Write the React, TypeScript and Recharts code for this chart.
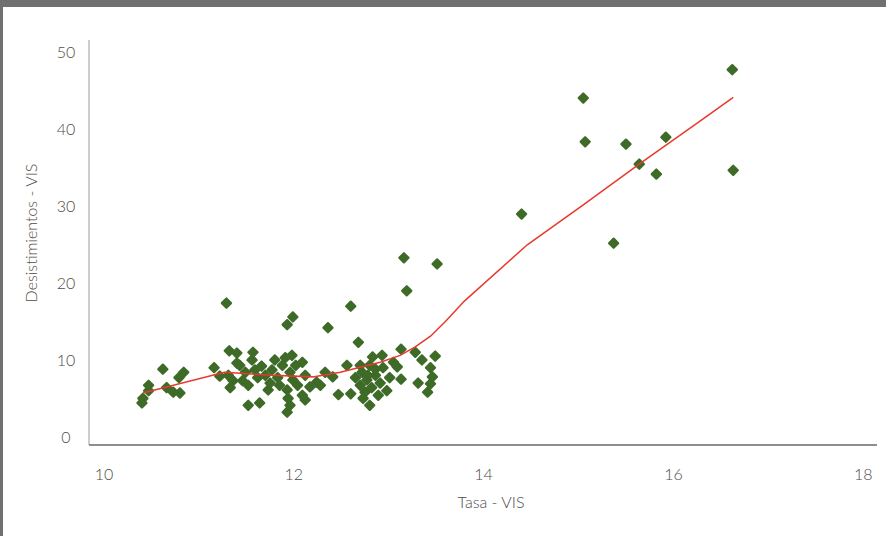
import React from "react";
import { ScatterChart, Scatter, XAxis, YAxis } from "recharts";

// Tasa - VIS (x) vs Desistimientos - VIS (y)
const tasa = [
  10.4, 10.41, 10.47, 10.47, 10.62, 10.66, 10.73, 10.8, 10.79, 10.84, 11.16,
  11.29, 11.32, 11.4, 11.31, 11.36, 11.33, 11.43, 11.49, 11.46, 11.52, 11.52,
  11.57, 11.56, 11.59, 11.62, 11.64, 11.66, 11.7, 11.73, 11.75, 11.77, 11.8,
  11.83, 11.85, 11.88, 11.91, 11.93, 11.94, 11.93, 11.96, 11.98, 11.96, 11.99,
  12.02, 12.04, 12.09, 12.09, 12.12, 12.17, 12.28, 12.33, 11.93, 11.99, 12.36,
  12.12, 12.41, 12.56, 12.6, 12.6, 12.68, 12.65, 12.7, 12.72, 12.75, 12.77,
  12.8, 12.8, 12.82, 12.83, 12.86, 12.89, 12.91, 12.93, 12.94, 12.98, 13.01,
  13.05, 13.09, 13.13, 13.13, 13.28, 13.35, 13.49, 13.44, 13.46, 13.31, 13.44,
  13.41, 12.73, 12.78, 12.7, 13.16, 13.51, 13.19, 14.4, 15.37, 15.05, 15.07,
  15.5, 15.92, 15.64, 15.82, 16.62, 16.63, 11.22, 11.4, 12.24, 12.47, 12.86,
];
const desistimientos = [
  4.3, 4.9, 6.6, 5.9, 8.7, 6.3, 5.7, 5.6, 7.6, 8.3, 8.9,
  17.3, 11.1, 10.8, 7.9, 7.2, 6.3, 9.2, 8.3, 7.2, 6.6, 4.0,
  10.9, 9.9, 8.6, 7.6, 4.3, 9.1, 7.9, 6.0, 6.9, 8.6, 9.9,
  7.6, 6.6, 9.2, 10.2, 6.0, 4.9, 3.1, 4.0, 10.5, 8.3, 7.3,
  9.2, 6.6, 9.6, 5.3, 7.9, 6.4, 6.6, 8.3, 14.5, 15.5, 14.1,
  4.7, 7.7, 9.2, 5.5, 16.9, 12.2, 7.6, 6.6, 8.3, 5.7, 7.3,
  9.2, 4.0, 6.3, 10.3, 7.9, 5.3, 6.9, 10.5, 8.9, 5.9, 7.6,
  9.6, 9.0, 11.3, 7.4, 10.9, 9.9, 10.4, 8.9, 7.7, 6.9, 6.8,
  5.7, 4.9, 7.9, 9.2, 23.2, 22.4, 18.9, 28.9, 25.1, 44.0, 38.3,
  38.0, 38.9, 35.4, 34.1, 47.7, 34.6, 7.8, 9.5, 7.0, 5.4, 8.7,
];

// smoothed trend (red line)
const trendX = [10.41, 11.27, 11.78, 12.2, 12.49, 12.91, 13.12, 13.28, 13.44, 13.59, 13.8, 14.46, 15.05, 15.65, 16.28, 16.63];
const trendY = [5.6, 8.3, 7.9, 7.7, 8.3, 9.6, 10.5, 11.6, 13.0, 14.8, 17.6, 24.9, 30.1, 35.5, 41.0, 44.1];

const xTicks = [10, 12, 14, 16, 18];
const yTicks = [0, 10, 20, 30, 40, 50];

const points = tasa.map((x, i) => ({ x, y: desistimientos[i] }));
const trend = trendX.map((x, i) => ({ x, y: trendY[i] }));

const GREEN = "#3e6b27";
const RED = "#e8392c";
const TEXT = "#4f4b48";
const FONT = "Lato, 'Open Sans', sans-serif";

const Diamond = (props: any) => {
  const { cx, cy } = props;
  const r = 4.6;
  return (
    <path
      d={`M${cx},${cy - r}L${cx + r},${cy}L${cx},${cy + r}L${cx - r},${cy}Z`}
      fill={GREEN}
      stroke={GREEN}
      strokeWidth={2.2}
      strokeLinejoin="round"
    />
  );
};

const YTick = (props: any) => (
  <text
    x={66}
    y={props.y}
    textAnchor="middle"
    dominantBaseline="central"
    fill={TEXT}
    fontSize={16}
    fontWeight={300}
    fontFamily={FONT}
  >
    {props.payload.value}
  </text>
);

const XTick = (props: any) => (
  <text
    x={props.x}
    y={props.y + 20}
    textAnchor="middle"
    dominantBaseline="central"
    fill={TEXT}
    fontSize={16}
    fontWeight={300}
    fontFamily={FONT}
  >
    {props.payload.value}
  </text>
);

export default function App() {
  return (
    <div
      style={{
        position: "absolute",
        left: 0,
        top: 0,
        width: 886,
        height: 536,
        background: "#fff",
        overflow: "hidden",
      }}
    >
      <ScatterChart
        width={886}
        height={536}
        margin={{ top: 40, right: 9, left: 0, bottom: 0 }}
      >
        <XAxis
          type="number"
          dataKey="x"
          domain={[9.842, 18.145]}
          ticks={xTicks}
          allowDataOverflow
          height={91}
          tickLine={false}
          tick={<XTick />}
          axisLine={{ stroke: "#8e8e8e", strokeWidth: 2 }}
        />
        <YAxis
          type="number"
          dataKey="y"
          domain={[-1.17, 51.56]}
          ticks={yTicks}
          allowDataOverflow
          width={89}
          tickLine={false}
          tick={<YTick />}
          axisLine={{ stroke: "#9a9a9a", strokeWidth: 1 }}
        />
        <Scatter data={points} shape={<Diamond />} isAnimationActive={false} />
        <Scatter
          data={trend}
          line={{ stroke: RED, strokeWidth: 1.5 }}
          lineType="joint"
          shape={() => <g />}
          isAnimationActive={false}
        />
      </ScatterChart>

      <div
        style={{
          position: "absolute",
          left: 391,
          top: 492,
          width: 200,
          textAlign: "center",
          fontFamily: FONT,
          fontSize: 16,
          fontWeight: 300,
          color: TEXT,
          lineHeight: "20px",
        }}
      >
        Tasa - VIS
      </div>
      <div
        style={{
          position: "absolute",
          left: 31 - 100,
          top: 233 - 10,
          width: 200,
          textAlign: "center",
          fontFamily: FONT,
          fontSize: 16,
          fontWeight: 300,
          color: TEXT,
          lineHeight: "20px",
          transform: "rotate(-90deg)",
        }}
      >
        Desistimientos - VIS
      </div>

      {/* frame */}
      <div style={{ position: "absolute", left: 0, top: 0, width: 886, height: 7, background: "#707070" }} />
      <div style={{ position: "absolute", left: 0, top: 0, width: 3, height: 536, background: "#707070" }} />
    </div>
  );
}
